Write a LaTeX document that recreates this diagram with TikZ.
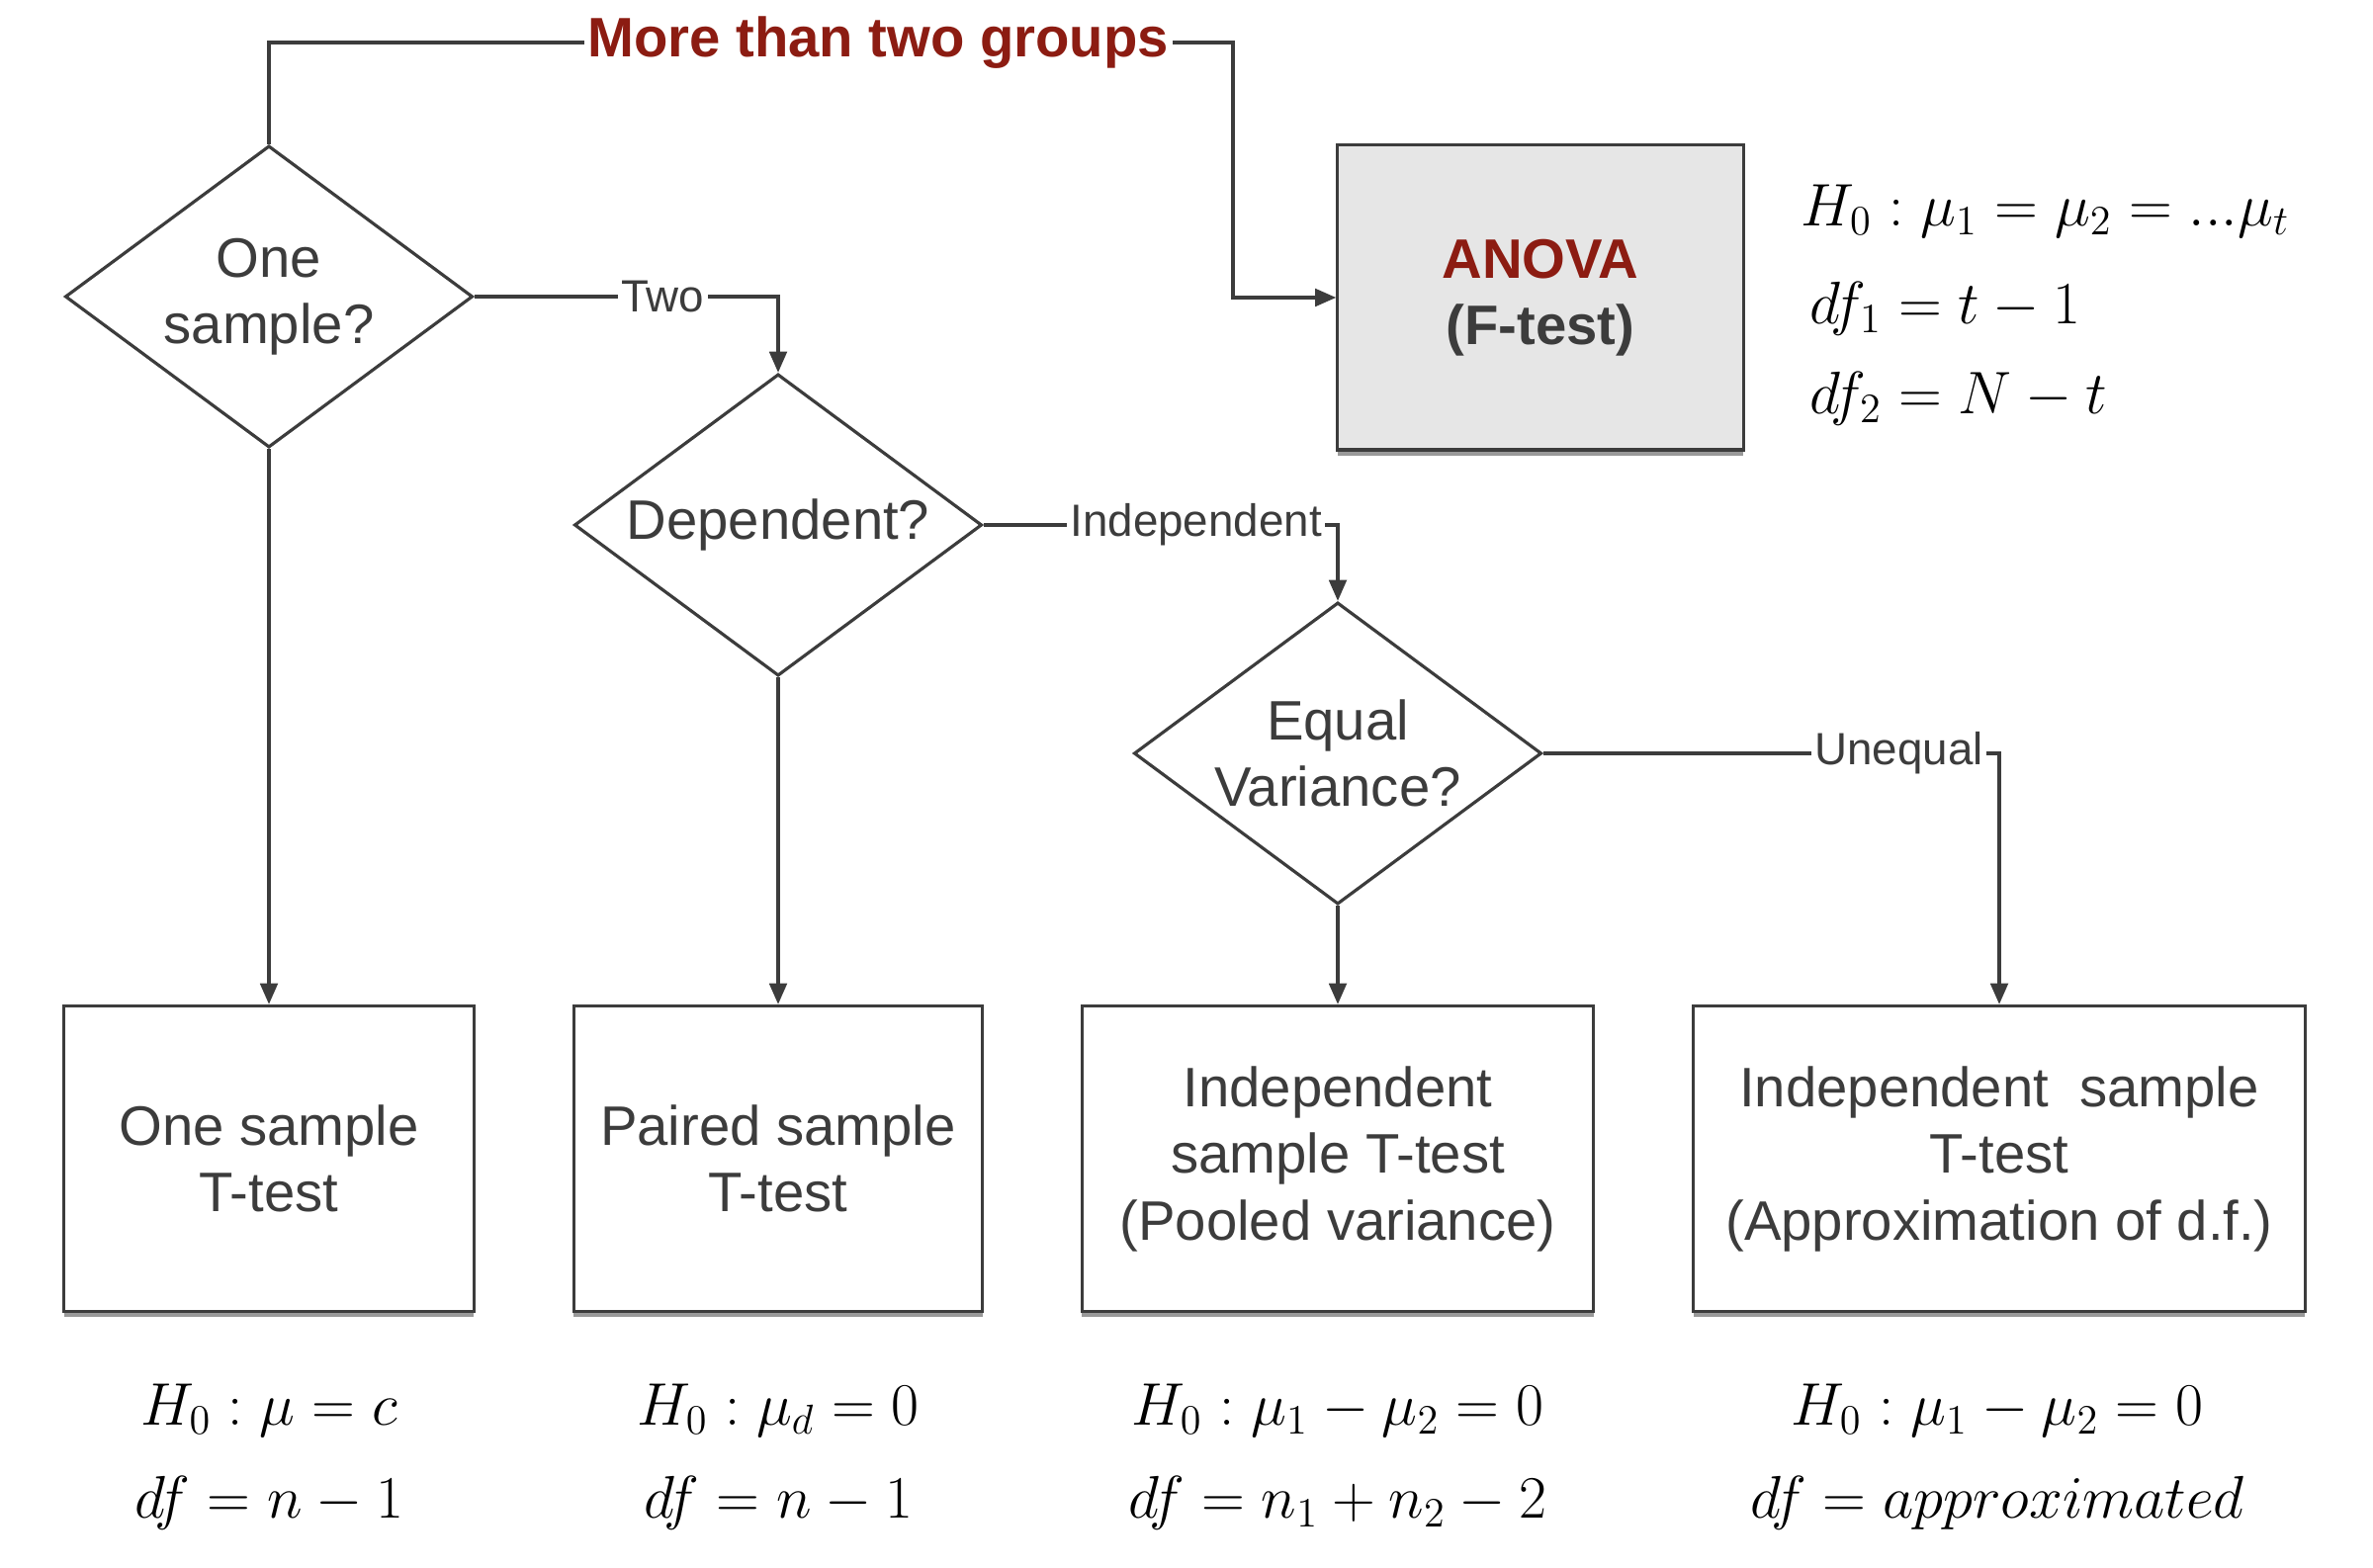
\documentclass[tikz,border=0pt]{standalone}
\usepackage{fontspec}
\setmainfont{Liberation Sans}
\usetikzlibrary{shapes.geometric,arrows.meta,shadows}
\definecolor{vinho}{RGB}{140,28,18}
\definecolor{cinza}{RGB}{60,60,60}
\definecolor{fundo}{RGB}{230,230,230}

\begin{document}
\begin{tikzpicture}[
  x=0.01cm, y=-0.01cm,
  every node/.style={font=\fontsize{16}{19.2}\selectfont, text=cinza, align=center},
  seta/.style={draw=cinza, line width=0.9pt, -{Triangle[length=6pt,width=5pt]}}
]
\tikzset{
  losango/.style={draw=cinza, line width=0.9pt, diamond, aspect=1.35, inner sep=0pt, minimum width=4.12cm, minimum height=3.05cm},
  caixa/.style={draw=cinza, line width=0.9pt, fill=white, minimum height=3.09cm,
    drop shadow={shadow xshift=0pt, shadow yshift=-1.6pt, fill=gray!80, opacity=1}},
  rotulo/.style={fill=white, inner sep=1pt, font=\fontsize{13}{15}\selectfont},
  formula/.style={font=\fontsize{18}{22}\selectfont, text=black}
}
\useasboundingbox (0,0) rectangle (2400,1586);

% perguntas
\node[losango] (um) at (272,300) {One\\sample?};
\node[losango] (dep) at (787,531) {Dependent?};
\node[losango] (var) at (1353,762) {Equal\\Variance?};

% testes
\node[caixa, fill=fundo, minimum width=4.10cm, minimum height=3.08cm] (anova) at (1558,301)
  {\textcolor{vinho}{\textbf{ANOVA}}\\\textbf{(F-test)}};
\node[caixa, minimum width=4.14cm] (t1) at (272,1172) {One sample\\T-test};
\node[caixa, minimum width=4.13cm] (t2) at (787,1172) {Paired sample\\T-test};
\node[caixa, minimum width=5.17cm] (t3) at (1353,1172) {Independent\\sample T-test\\(Pooled variance)};
\node[caixa, minimum width=6.18cm] (t4) at (2022,1172) {Independent~ sample\\T-test\\(Approximation of d.f.)};

% ligacoes
\coordinate (canto) at (1247,43);
\draw[seta] (um.north) |- node[rotulo, pos=0.816, text=vinho, font=\fontsize{16}{19.2}\selectfont\bfseries] (grupos) {More than two groups}
  (canto) |- (anova.west);
\draw[seta] (um.east) -| node[rotulo, pos=0.31] (dois) {Two} (dep.north);
\draw[seta] (dep.east) -| node[rotulo, pos=0.30] (indep) {Independent} (var.north);
\draw[seta] (var.east) -| node[rotulo, pos=0.39] (desig) {Unequal} (t4.north);
\draw[seta] (um.south) -- (t1.north);
\draw[seta] (dep.south) -- (t2.north);
\draw[seta] (var.south) -- (t3.north);

% hipoteses
\node[formula, anchor=west, inner sep=0pt, font=\fontsize{17}{21}\selectfont] (ha) at (1821,214) {$H_0:\mu_1=\mu_2=...\mu_t$};
\node[formula, anchor=west, inner sep=0pt, font=\fontsize{17}{21}\selectfont] (da) at (1830,312) {$df_1=t-1$};
\node[formula, anchor=west, inner sep=0pt, font=\fontsize{17}{21}\selectfont] (db) at (1830,403) {$df_2=N-t$};
\node[formula] (h1) at (272,1427) {$H_0:\mu=c$};
\node[formula] (d1) at (272,1520) {$df=n-1$};
\node[formula] (h2) at (787,1427) {$H_0:\mu_d=0$};
\node[formula] (d2) at (787,1520) {$df=n-1$};
\node[formula] (h3) at (1353,1427) {$H_0:\mu_1-\mu_2=0$};
\node[formula] (d3) at (1353,1520) {$df=n_1+n_2-2$};
\node[formula] (h4) at (2020,1427) {$H_0:\mu_1-\mu_2=0$};
\node[formula] (d4) at (2020,1520) {$df=approximated$};
\end{tikzpicture}
\end{document}
